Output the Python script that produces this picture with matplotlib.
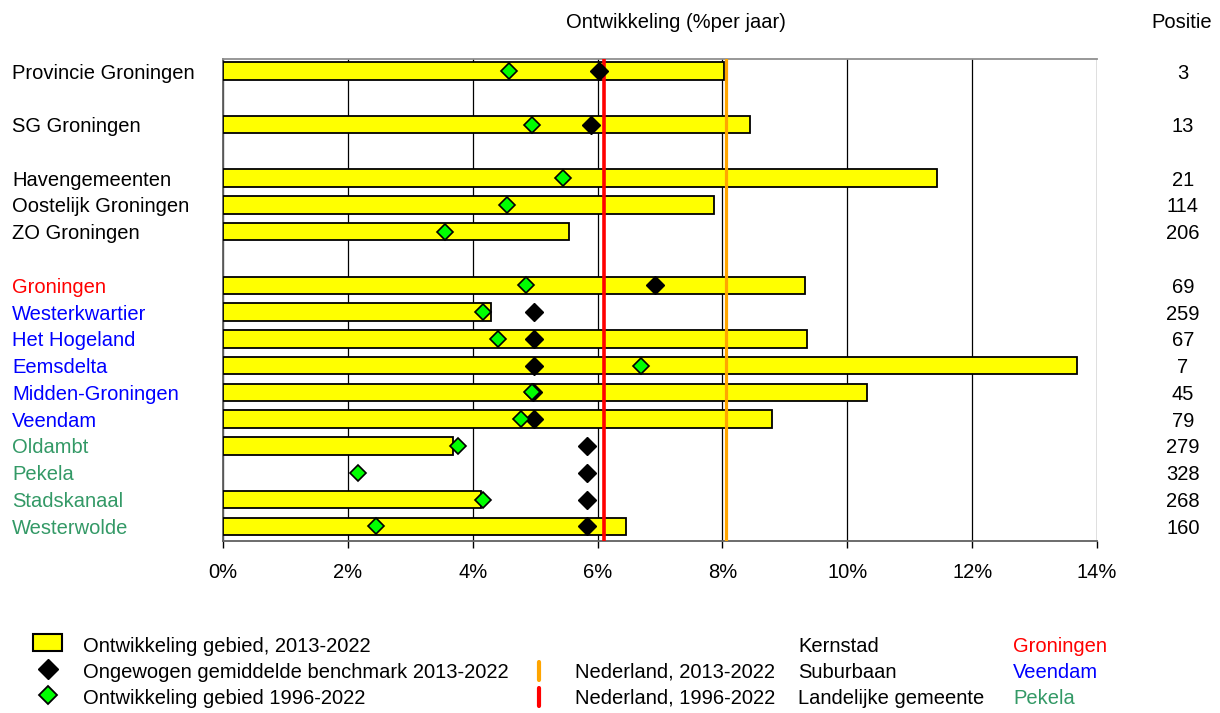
import numpy as np
import matplotlib
matplotlib.use("Agg")
import matplotlib.pyplot as plt
from matplotlib.transforms import blended_transform_factory
from matplotlib.patches import Rectangle
from matplotlib.lines import Line2D

plt.rcParams['font.family'] = ['Liberation Sans', 'DejaVu Sans']

# data (percent per year)
regions = ['Provincie Groningen', 'SG Groningen', 'Havengemeenten', 'Oostelijk Groningen',
           'ZO Groningen', 'Groningen', 'Westerkwartier', 'Het Hogeland', 'Eemsdelta',
           'Midden-Groningen', 'Veendam', 'Oldambt', 'Pekela', 'Stadskanaal', 'Westerwolde']
row_pos = [0, 2, 4, 5, 6, 8, 9, 10, 11, 12, 13, 14, 15, 16, 17]
label_kind = ['plain'] * 5 + ['kern'] + ['sub'] * 5 + ['land'] * 4
dev_2013_2022 = [8.03, 8.44, 11.43, 7.87, 5.54, 9.32, 4.30, 9.36, 13.68, 10.31, 8.80, 3.68, np.nan, 4.14, 6.46]
benchmark_2013_2022 = [6.02, 5.90, np.nan, np.nan, np.nan, 6.92, 4.98, 4.98, 4.98, 4.97, 4.98,
                       5.83, 5.83, 5.83, 5.83]
dev_1996_2022 = [4.58, 4.95, 5.44, 4.55, 3.55, 4.86, 4.16, 4.40, 6.70, 4.95, 4.77, 3.77, 2.17, 4.16, 2.45]
positie = [3, 13, 21, 114, 206, 69, 259, 67, 7, 45, 79, 279, 328, 268, 160]
nl_2013_2022 = 8.05
nl_1996_2022 = 6.11
x_ticks = [0, 2, 4, 6, 8, 10, 12, 14]

kind_colors = {'plain': 'black', 'kern': '#FF0000', 'sub': '#0000FF', 'land': '#339966'}
fs = 14.5

fig = plt.figure(figsize=(12.2, 7.13), dpi=100)
ax = fig.add_axes([0.1828, 0.2412, 0.8992 - 0.1828, 0.9173 - 0.2412])

bar_pos = [p for p, v in zip(row_pos, dev_2013_2022) if not np.isnan(v)]
bar_val = [v for v in dev_2013_2022 if not np.isnan(v)]
ax.barh(bar_pos, bar_val, height=0.65, color='#FFFF00', edgecolor='black',
        linewidth=1.3, zorder=3)
ax.axvline(nl_1996_2022, color='#FF0000', linewidth=2.6, zorder=4)
ax.axvline(nl_2013_2022, color='#FFA500', linewidth=2.3, zorder=4)
ax.plot(benchmark_2013_2022, row_pos, linestyle='none', marker='D', markersize=9,
        color='black', zorder=5)
ax.plot(dev_1996_2022, row_pos, linestyle='none', marker='D', markersize=8,
        markerfacecolor='#00FF00', markeredgecolor='black', markeredgewidth=1.2, zorder=6)

ax.set_xlim(0, 14)
ax.set_ylim(17.55, -0.45)
ax.set_xticks(x_ticks)
ax.set_xticklabels([f'{t}%' for t in x_ticks], fontsize=fs)
ax.set_yticks([])
ax.grid(axis='x', color='black', linewidth=0.9, zorder=0)
ax.tick_params(axis='x', direction='out', length=5, width=1, pad=11)
for side in ['left', 'bottom', 'top']:
    ax.spines[side].set_color('#606060')
    ax.spines[side].set_linewidth(1.3)
ax.spines['top'].set_color('#909090')
ax.spines['right'].set_visible(False)

# labels on the left and positions on the right
trans = blended_transform_factory(fig.transFigure, ax.transData)
for name, y, kind, pos in zip(regions, row_pos, label_kind, positie):
    ax.text(12 / 1220, y, name, transform=trans, ha='left', va='center_baseline',
            fontsize=fs, color=kind_colors[kind])
    ax.text(1183 / 1220, y, str(pos), transform=trans, ha='center', va='center_baseline',
            fontsize=fs)

fig.text(676 / 1220, 1 - 20 / 713, 'Ontwikkeling (%per jaar)', ha='center',
         va='center_baseline', fontsize=fs)
fig.text(1182 / 1220, 1 - 20 / 713, 'Positie', ha='center', va='center_baseline', fontsize=fs)

# legend at the bottom, built by hand
def fx(px):
    return px / 1220

def fy(py):
    return 1 - py / 713

rows_y = [645, 670, 696]
fig.patches.append(Rectangle((fx(33), fy(651)), fx(29), 17 / 713,
                             transform=fig.transFigure, facecolor='#FFFF00',
                             edgecolor='black', linewidth=1.5))
fig.lines.append(Line2D([fx(48)], [fy(669)], transform=fig.transFigure,
                        marker='D', markersize=10, color='black', linestyle='none'))
fig.lines.append(Line2D([fx(48)], [fy(695)], transform=fig.transFigure,
                        marker='D', markersize=9, markerfacecolor='#00FF00',
                        markeredgecolor='black', markeredgewidth=1.3, linestyle='none'))
legend_texts = ['Ontwikkeling gebied, 2013-2022',
                'Ongewogen gemiddelde benchmark 2013-2022',
                'Ontwikkeling gebied 1996-2022']
for t, y in zip(legend_texts, rows_y):
    fig.text(fx(83), fy(y), t, ha='left', va='center_baseline', fontsize=fs)

for col, y in [('#FFA500', 671), ('#FF0000', 697)]:
    fig.lines.append(Line2D([fx(539), fx(539)], [fy(y - 9), fy(y + 9)],
                            transform=fig.transFigure, color=col, linewidth=3,
                            solid_capstyle='round'))
fig.text(fx(575), fy(rows_y[1]), 'Nederland, 2013-2022', ha='left', va='center_baseline', fontsize=fs)
fig.text(fx(575), fy(rows_y[2]), 'Nederland, 1996-2022', ha='left', va='center_baseline', fontsize=fs)

type_names = ['Kernstad', 'Suburbaan', 'Landelijke gemeente']
type_examples = ['Groningen', 'Veendam', 'Pekela']
type_colors = [kind_colors['kern'], kind_colors['sub'], kind_colors['land']]
for name, ex, c, y in zip(type_names, type_examples, type_colors, rows_y):
    fig.text(fx(798), fy(y), name, ha='left', va='center_baseline', fontsize=fs)
    fig.text(fx(1013), fy(y), ex, ha='left', va='center_baseline', fontsize=fs, color=c)

fig.savefig('out.png', dpi=100)
